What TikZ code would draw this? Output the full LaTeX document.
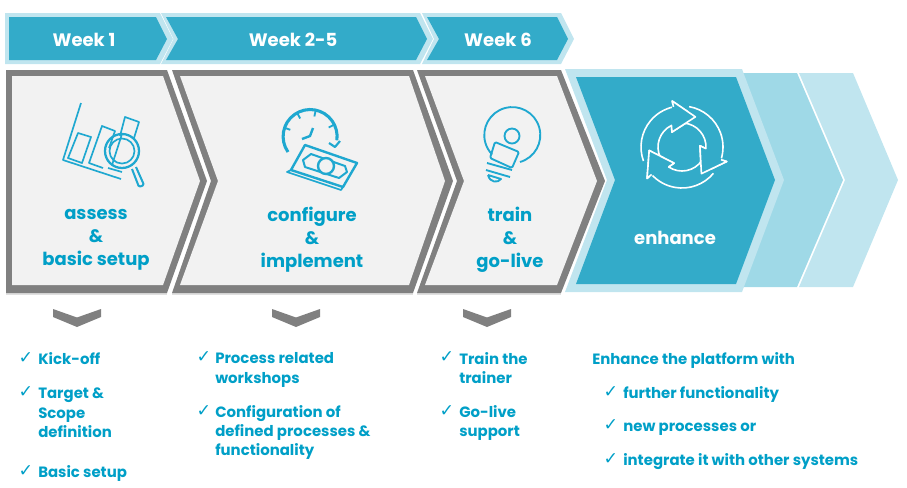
\documentclass[tikz,border=0pt]{standalone}
\usepackage{fontspec}
\usetikzlibrary{calc}
\setmainfont{Poppins}
\newfontfamily\symfont{DejaVu Sans}
\definecolor{hdblue}{HTML}{33ABC9}
\definecolor{midblue}{HTML}{9FD9E7}
\definecolor{paleblue}{HTML}{C0E5EF}
\definecolor{txtblue}{HTML}{009FC7}
\definecolor{icoblue}{HTML}{1FA8D0}
\definecolor{boxgray}{HTML}{808080}
\definecolor{boxfill}{HTML}{F2F2F2}
\tikzset{
  weeklab/.style={text=white,font=\bfseries\fontsize{13.5}{16}\selectfont},
  phaselab/.style={text=txtblue,font=\bfseries\fontsize{13.5}{17.3}\selectfont,align=center},
  itemlab/.style={text=txtblue,font=\bfseries\fontsize{11.2}{14.6}\selectfont,align=left,anchor=west,inner sep=0pt},
  chk/.style={text=txtblue,font=\symfont\fontsize{13}{14}\selectfont,inner sep=0pt},
  ico/.style={draw=icoblue,line width=1.25pt,line join=round},
  icot/.style={draw=icoblue,line width=2.3pt,line join=round},
  cyc/.style={draw=white,line width=1.2pt,line join=round},
}
\begin{document}
\begin{tikzpicture}[x=0.75pt,y=-0.75pt]  % ------ one unit = one pixel, y downwards -------
    \useasboundingbox (0,0) rectangle (907,487);

    % week bar
    \fill[paleblue] (5,13) -- (160,13) -- (173,39) -- (160,64) -- (5,64) -- cycle;
    \fill[hdblue] (9,17) -- (156,17) -- (167,39) -- (156,60) -- (9,60) -- cycle;
    \fill[paleblue] (161,13) -- (420,13) -- (433,39) -- (420,64) -- (161,64) -- (173.5,39) -- cycle;
    \fill[hdblue] (166,17) -- (416,17) -- (427,39) -- (416,60) -- (166,60) -- (178,39) -- cycle;
    \fill[paleblue] (422,13) -- (561,13) -- (574,39) -- (561,64) -- (422,64) -- (434,39) -- cycle;
    \fill[hdblue] (427,17) -- (557,17) -- (568,39) -- (557,60) -- (427,60) -- (439,39) -- cycle;
    \node[weeklab] (week1) at (84,39.5) {Week 1};
    \node[weeklab] (week2) at (293,39.5) {Week 2-5};
    \node[weeklab] (week6) at (498,39.5) {Week 6};

    % grey phases
    \fill[black!12] (6,293) -- (167,293) -- (167,295) -- (6,295) -- cycle;
    \fill[black!12] (172,293) -- (413,293) -- (413,295) -- (172,295) -- cycle;
    \fill[black!12] (417,293) -- (561,293) -- (561,295) -- (417,295) -- cycle;
    \fill[boxgray] (6,70) -- (167,70) -- (207,181) -- (167,293) -- (6,293) -- cycle;
    \fill[boxfill] (12,76) -- (163,76) -- (200,181) -- (163,285) -- (12,285) -- cycle;
    \fill[boxgray] (172,70) -- (413,70) -- (453,181) -- (413,293) -- (172,293) -- (211,181) -- cycle;
    \fill[boxfill] (180,76) -- (409,76) -- (445,181) -- (409,285) -- (180,285) -- (218,181) -- cycle;
    \fill[boxgray] (417,70) -- (561,70) -- (605,181) -- (561,293) -- (417,293) -- (457,181) -- cycle;
    \fill[boxfill] (425,76) -- (557,76) -- (597,181) -- (557,285) -- (425,285) -- (464,181) -- cycle;

    % blue phases
    \fill[paleblue] (799,73) -- (853,73) -- (898,180) -- (853,287) -- (799,287) -- (845,180) -- cycle;
    \fill[midblue] (730,73) -- (797,73) -- (843,180) -- (797,287) -- (730,287) -- cycle;
    \fill[paleblue] (565,69) -- (742,69) -- (784,180) -- (742,292) -- (565,292) -- (607,180) -- cycle;
    \fill[hdblue] (576,77) -- (736,77) -- (775,180) -- (736,284) -- (576,284) -- (615,180) -- cycle;

    % phase labels
    \node[phaselab] (assess) at (96,240) {assess\\\&\\basic setup};
    \node[phaselab] (config) at (312,240) {configure\\\&\\implement};
    \node[phaselab] (train) at (510,240) {train\\\&\\go-live};
    \node[text=white,font=\bfseries\fontsize{13.5}{17}\selectfont] (enh) at (675,238) {enhance};

    % icon : chart and lens
    \draw[ico] (81,103) -- (63,160) -- (121,179);
    \draw[ico] (68,158) -- (78,133) -- (91,137) -- (82,163) -- cycle;
    \draw[ico] (103,168) -- (89,163) -- (102,126) -- (115,131) -- (109,148);
    \draw[ico] (120,136) -- (125,117) -- (139,122) -- (134,138);
    \draw[ico] (108,168) -- (122,172);
    \draw[ico] (122,134) -- (112,165);
    \draw[ico,line width=1.7pt] (122,151) circle (17);
    \draw[ico] (122,151) circle (12.5);
    \draw[ico,line width=1.5pt,rounded corners=1pt] (132,169) -- (139,187) -- (144,185) -- (136,167);

    % icon : gauge and money
    \draw[icot] (288,152) arc[start angle=145,end angle=368,radius=27];
    \foreach \a in {200,242,282,333}
      \draw[icot,line width=1.4pt] ($(310,137)+(\a:27)$) -- ($(310,137)+(\a:21)$);
    \draw[icot,line width=1.6pt] (329,143) -- (335,147) -- (340,141);
    \draw[icot,line width=1.8pt] (302,139) -- (310,136) -- (313,128);
    \draw[icot,line width=1.8pt] (305,145) -- (357,163) -- (343,187) -- (291,170) -- cycle;
    \draw[ico] (291,170) -- (287,172) -- (341,190) -- (343,187);
    \draw[ico,line width=1.5pt] (311,154) -- (345,166) -- (347,172) -- (339,178) -- (305,167) -- (303,160) -- cycle;
    \draw[icot,line width=1.8pt,fill=boxfill] (326,166) circle (8);

    % icon : bulb
    \draw[ico,line width=1.4pt] (520,162) arc[start angle=74,end angle=-224,radius=28];
    \draw[ico,line width=1.4pt] (512,136) circle (7.5);
    \draw[ico,line width=1.4pt,rounded corners=1pt] (495,142) -- (519,152) -- (512,168) -- (490,158) -- cycle;
    \draw[ico,line width=1.4pt] (487,163) -- (512,170);
    \draw[ico,line width=1.4pt] (486,170) -- (510,177);
    \draw[ico,line width=1.4pt] (488,175) -- (501,179) .. controls (498,183) and (490,183) .. (488,175);

    % icon : cycle
    \begin{scope}[shift={(682,147)}]
      \foreach \r in {0,120,240}
        \draw[cyc,fill=hdblue] (\r+160:41) arc[start angle=\r+160,end angle=\r+258,radius=41]
          -- (\r+258:47) -- (\r+294:33) -- (\r+236:18) -- (\r+244:24)
          arc[start angle=\r+244,end angle=\r+154,radius=24];
      \foreach \r in {0,120,240}{
        \fill[hdblue] (\r+258:47) -- (\r+294:33) -- (\r+236:18) -- cycle;
        \draw[cyc] (\r+258:41) -- (\r+258:47) -- (\r+294:33) -- (\r+236:18) -- (\r+244:24);
      }
    \end{scope}

    % small chevrons
    \foreach \m/\n in {77/chvone,296/chvtwo,487/chvsix}
      \fill[boxgray] (\m-24,309) -- (\m,317.5) -- (\m+24,309) -- (\m+24,317) -- (\m,327) -- (\m-24,317) -- cycle;

    % lists
    \node[chk] (c1) at (26,358) {✓};
    \node[itemlab] (kick) at (38,359) {Kick-off};
    \node[chk] (c2) at (26,392) {✓};
    \node[itemlab] (target) at (38,413) {Target \&\\Scope\\definition};
    \node[chk] (c3) at (26,471) {✓};
    \node[itemlab] (basic) at (38,473) {Basic setup};

    \node[chk] (c4) at (204,357) {✓};
    \node[itemlab] (proc) at (215,370) {Process related\\workshops};
    \node[chk] (c5) at (204,411) {✓};
    \node[itemlab] (confi) at (215,432.5) {Configuration of\\defined processes \&\\functionality};

    \node[chk] (c6) at (447,357) {✓};
    \node[itemlab] (tth) at (459,368) {Train the\\trainer};
    \node[chk] (c7) at (447,411) {✓};
    \node[itemlab] (gol) at (459,423) {Go-live\\support};

    \node[itemlab] (plat) at (592,360) {Enhance the platform with};
    \node[chk] (c8) at (611,392) {✓};
    \node[itemlab] (func) at (623,394) {further functionality};
    \node[chk] (c9) at (611,425) {✓};
    \node[itemlab] (newp) at (623,429) {new processes or};
    \node[chk] (c10) at (611,459) {✓};
    \node[itemlab] (integ) at (623,462) {integrate it with other systems};
\end{tikzpicture}
\end{document}
